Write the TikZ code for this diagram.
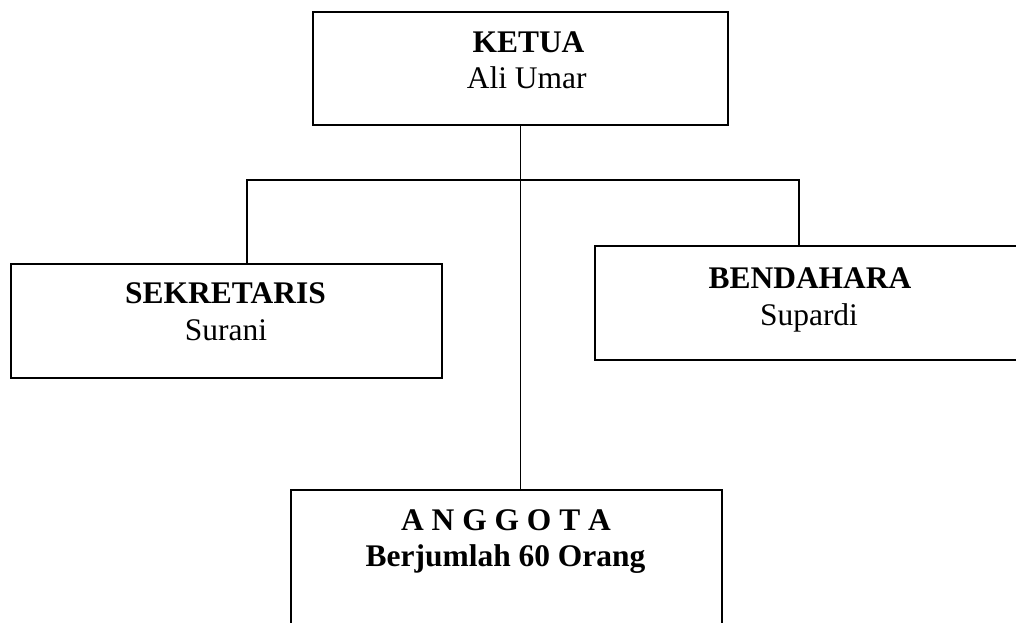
\documentclass[tikz,border=0pt]{standalone}
\usepackage{fontspec}
\setmainfont{Liberation Serif}
\begin{document}
\begin{tikzpicture}[x=0.75pt,y=0.75pt,
  box/.style={draw,line width=1.4pt,inner sep=0pt},
  conn/.style={line width=1.1pt},
  jabatan/.style={anchor=base,font=\fontsize{23.6}{28}\selectfont\bfseries},
  nama/.style={anchor=base,font=\fontsize{23.6}{28}\selectfont}]
\useasboundingbox (0,0) rectangle (1016,622);
\clip (0,0) rectangle (1016,622);
\node[box,minimum width=311.25pt,minimum height=84.75pt] (ketua) at (520.5,553.5) {};
\node[box,minimum width=323.25pt,minimum height=85.5pt] (sekre) at (226.5,301) {};
\node[box,minimum width=326.25pt,minimum height=85.5pt] (benda) at (812.5,319) {};
\node[box,minimum width=323.25pt,minimum height=120pt] (anggota) at (506.5,52) {};
\node[jabatan] (tketua) at (528.5,569.7) {KETUA};
\node[nama] (nketua) at (526.7,533.7) {Ali Umar};
\node[jabatan] (tsekre) at (225.5,318.7) {SEKRETARIS};
\node[nama] (nsekre) at (226,282) {Surani};
\node[jabatan] (tbenda) at (810,333.7) {BENDAHARA};
\node[nama] (nbenda) at (809,297) {Supardi};
\node[jabatan] (tanggota) at (506,92) {A N G G O T A};
\node[jabatan] (nanggota) at (505.5,55.3) {Berjumlah 60 Orang};
\coordinate (kiri) at (247,442);
\coordinate (kanan) at (799,442);
\draw[conn] (ketua.south) -- (ketua.south |- anggota.north);
\draw[conn] (kiri |- sekre.north) -- (kiri) -- (kanan) -- (kanan |- benda.north);
\end{tikzpicture}
\end{document}
